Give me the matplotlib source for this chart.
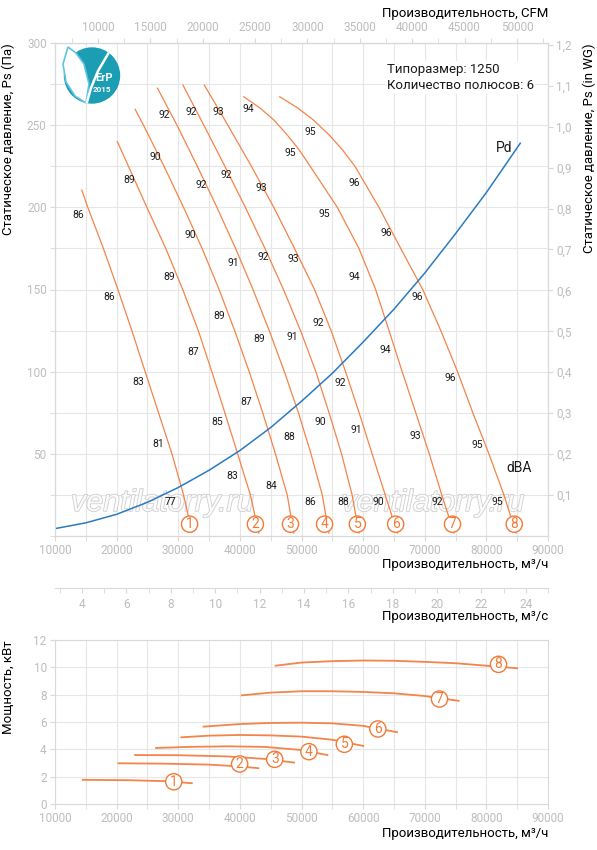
import matplotlib.pyplot as plt
import matplotlib.patheffects as pe
from matplotlib.patches import Circle, Polygon
from matplotlib.ticker import MultipleLocator, FuncFormatter

plt.rcParams['font.family'] = ['Roboto', 'DejaVu Sans']

# fan curves, static pressure (m3/h, Pa)
q1 = [14340, 15320, 17850, 20210, 22470, 24630, 26800, 28980, 30860, 32230]
ps1 = [210.5, 200, 175, 150, 125, 100, 75, 50, 25, 2.4]
q2 = [20130, 21920, 24910, 27970, 30730, 33250, 35450, 37560, 39640, 41710, 43060]
ps2 = [239.9, 225, 200, 175, 150, 125, 100, 75, 50, 25, 1.8]
q3 = [23010, 24360, 27690, 30860, 33870, 36630, 39150, 41510, 43710, 45770, 47680, 48750]
ps3 = [259.6, 250, 225, 200, 175, 150, 125, 100, 75, 50, 25, 1.8]
q4 = [26630, 29790, 33090, 36280, 39300, 42130, 44760, 47220, 49500, 51540, 53370, 54440]
ps4 = [272.5, 250, 225, 200, 175, 150, 125, 100, 75, 50, 25, 1.8]
q5 = [30760, 34150, 37560, 40890, 44070, 47070, 49840, 52330, 54470, 56500, 58210, 59320]
ps5 = [274.4, 250, 225, 200, 175, 150, 125, 100, 75, 50, 25, 1.8]
q6 = [34230, 38050, 41870, 45500, 48860, 52110, 54800, 57150, 59350, 61460, 63580, 65560]
ps6 = [274.4, 250, 225, 200, 175, 150, 125, 100, 75, 50, 25, 1.8]
q7 = [40620, 43280, 45530, 47720, 49630, 51410, 55810, 59320, 62030, 64200, 66340, 68540,
      70730, 72760, 74760]
ps7 = [267.3, 260.4, 253.1, 243.9, 234.9, 225, 200, 175, 150, 125, 100, 75, 50, 25, 1.8]
q8 = [46470, 49410, 51950, 54520, 56670, 58670, 62570, 66100, 69670, 72600, 75320, 77800,
      80410, 82850, 84800]
ps8 = [267.3, 260.4, 253.1, 243.9, 234.9, 225, 200, 175, 150, 125, 100, 75, 50, 25, 1.8]

# dynamic pressure
pd_q = [10000, 15000, 20000, 25000, 30000, 35000, 40000, 45000, 50000,
        55000, 60000, 65000, 70000, 75000, 80000, 85500]
pd_ps = [4.5, 8, 13.2, 20.5, 29.5, 40, 52, 66, 82, 99, 118, 138, 160, 184, 209, 239]

# noise labels along the curves (dBA)
lab_q = [13790, 18830, 23550, 26700, 28700,
         22030, 28540, 32490, 36390, 38830,
         26210, 31900, 36670, 41010, 45070,
         27720, 33740, 38940, 43120, 48050, 51350,
         32070, 37760, 43870, 48490, 52980, 56780,
         36460, 43550, 48750, 52650, 56230, 58940, 62410,
         41330, 48210, 53740, 58620, 63660, 68420, 72060,
         51460, 58620, 63770, 68810, 74110, 78460, 81710]
lab_ps = [195.3, 145.4, 93.9, 56.0, 20.9,
          216.6, 157.4, 112.1, 69.6, 36.5,
          230.4, 183.2, 133.9, 81.7, 30.4,
          256.2, 213.6, 165.9, 119.7, 60.2, 20.9,
          257.8, 219.7, 169.8, 120.9, 69.6, 20.9,
          257.8, 211.6, 168.4, 129.8, 92.9, 64.5, 20.9,
          259.6, 233.2, 195.8, 157.8, 113.2, 61.0, 20.9,
          245.6, 214.6, 184.6, 145.3, 96.3, 55.4, 20.9]
lab_txt = ['86', '86', '83', '81', '77',
           '89', '89', '87', '85', '83',
           '90', '90', '89', '87', '84',
           '92', '92', '91', '89', '88', '86',
           '92', '92', '92', '91', '90', '88',
           '93', '93', '93', '92', '92', '91', '90',
           '94', '95', '95', '94', '94', '93', '92',
           '95', '96', '96', '96', '96', '95', '95']

mark_q = [31840, 42520, 48210, 53740, 59060, 65280, 74500, 84520]
mark_ps = 7.2

# shaft power curves (m3/h, kW)
pq1 = [14500, 22000, 28000, 32200]
pw1 = [1.77, 1.74, 1.67, 1.52]
pq2 = [20300, 28000, 35000, 40000, 43000]
pw2 = [2.98, 2.95, 2.88, 2.75, 2.62]
pq3 = [23000, 30000, 38000, 44000, 48800]
pw3 = [3.58, 3.57, 3.48, 3.30, 3.03]
pq4 = [26400, 32000, 38000, 44000, 50000, 54200]
pw4 = [4.10, 4.18, 4.22, 4.18, 3.95, 3.58]
pq5 = [30500, 35000, 40000, 45000, 50000, 55000, 60000]
pw5 = [4.88, 5.00, 5.05, 5.02, 4.93, 4.70, 4.25]
pq6 = [34100, 40000, 45000, 50000, 55000, 60000, 65500]
pw6 = [5.66, 5.85, 5.93, 5.95, 5.90, 5.72, 5.25]
pq7 = [40300, 45000, 50000, 55000, 60000, 65000, 70000, 75500]
pw7 = [7.95, 8.15, 8.25, 8.25, 8.20, 8.10, 7.90, 7.55]
pq8 = [45800, 50000, 55000, 60000, 65000, 70000, 75000, 80000, 85000]
pw8 = [10.12, 10.35, 10.45, 10.50, 10.48, 10.40, 10.30, 10.12, 9.93]

pmark_q = [29270, 39960, 45650, 51200, 56950, 62390, 72390, 81970]
pmark_w = [1.63, 2.93, 3.27, 3.83, 4.37, 5.49, 7.68, 10.22]

ORANGE = '#f3844a'
MARK = '#f27a38'
BLUE = '#2b7bc0'
GRID = '#e6e6e6'
SPINE = '#d9d9d9'
TICK = '#bdbdbd'

W, H = 597, 850
fig = plt.figure(figsize=(W / 100, H / 100), dpi=100)


def box(x0, y0, x1, y1):
    return [x0 / W, 1 - y1 / H, (x1 - x0) / W, (y1 - y0) / H]


def style(a):
    for s in a.spines.values():
        s.set_color(SPINE)
    a.tick_params(which='both', colors=SPINE, labelcolor=TICK,
                  labelsize=8.5, length=3.5, pad=2.5)


# ---- main pressure chart
ax = fig.add_axes(box(55, 43, 548, 536))
ax.set_xlim(10000, 90000)
ax.set_ylim(0, 300)
ax.set_xticks(range(10000, 90001, 10000))
ax.xaxis.set_minor_locator(MultipleLocator(5000))
ax.set_yticks(range(50, 301, 50))
ax.yaxis.set_minor_locator(MultipleLocator(25))
ax.grid(which='both', color=GRID, lw=0.8)
ax.set_axisbelow(True)
style(ax)

curves_q = [q1, q2, q3, q4, q5, q6, q7, q8]
curves_ps = [ps1, ps2, ps3, ps4, ps5, ps6, ps7, ps8]
for q, p in zip(curves_q, curves_ps):
    ax.plot(q, p, color=ORANGE, lw=0.9, zorder=3)
ax.plot(pd_q, pd_ps, color=BLUE, lw=1.1, zorder=3)

for q, p, t in zip(lab_q, lab_ps, lab_txt):
    ax.text(q, p, t, fontsize=7.5, color='#1a1a1a', ha='center', va='center', zorder=5)

for i, q in enumerate(mark_q):
    ax.text(q, mark_ps, str(i + 1), fontsize=10, color=MARK, ha='center', va='center', zorder=6,
            bbox=dict(boxstyle='circle,pad=0.08', fc='white', ec=MARK, lw=1.0))

ax.text(82800, 235.9, 'Pd', fontsize=10, color='#1a1a1a', ha='center', va='center')
ax.text(85330, 41.2, 'dBA', fontsize=10, color='#1a1a1a', ha='center', va='center')

ax.text(0.673, 0.93, 'Типоразмер: 1250\nКоличество полюсов: 6', transform=ax.transAxes,
        fontsize=9.5, color='#1a1a1a', ha='left', va='center', linespacing=1.35, zorder=6,
        bbox=dict(fc='white', ec='none', pad=1))

for wq in [27400, 71300]:
    ax.text(wq, 20.1, 'ventilatorry.ru', fontsize=22, style='italic', family='Liberation Sans',
            color='white', alpha=0.85, ha='center', va='center', zorder=2,
            path_effects=[pe.withStroke(linewidth=1.1, foreground='#c4c4c4')])

ax.set_ylabel('Статическое давление, Ps (Па)', loc='top', fontsize=9.5)
ax.yaxis.set_label_coords(-0.081, 1.0)
ax.set_xlabel('Производительность, м³/ч', loc='right', fontsize=9.5)
ax.xaxis.set_label_coords(1.0, -0.044)

ax2 = ax.twinx()
ax2.set_ylim(0, 300 / 249.089)
ax2.set_yticks([0.1 * k for k in range(1, 13)])
ax2.yaxis.set_major_formatter(FuncFormatter(lambda v, _: f'{v:.1f}'.replace('.', ',')))
style(ax2)
ax2.set_ylabel('Статическое давление, Ps (in WG)', loc='top', fontsize=9.5)
ax2.yaxis.set_label_coords(1.071, 1.0)

sec = ax.secondary_xaxis('top', functions=(lambda q: q / 1.699, lambda c: c * 1.699))
sec.set_xticks(range(10000, 50001, 5000))
sec.xaxis.set_minor_locator(MultipleLocator(2500))
style(sec)
sec.tick_params(pad=3)
fig.text(548 / W, 1 - 13 / H, 'Производительность, CFM', fontsize=9.5, ha='right', va='center')

# ---- m3/s scale
ax3 = fig.add_axes(box(55, 560, 548, 588))
ax3.set_xlim(10000 / 3600, 90000 / 3600)
ax3.patch.set_visible(False)
for s in ['top', 'left', 'right']:
    ax3.spines[s].set_visible(False)
ax3.set_yticks([])
ax3.set_xticks(range(4, 25, 2))
ax3.xaxis.set_minor_locator(MultipleLocator(1))
style(ax3)
ax3.tick_params(pad=3.5)
ax3.set_xlabel('Производительность, м³/с', loc='right', fontsize=9.5)
ax3.xaxis.set_label_coords(1.0, -0.8)

# ---- logo
lax = fig.add_axes(box(60, 44, 124, 108))
lax.set_xlim(0, 64)
lax.set_ylim(64, 0)
lax.axis('off')
lax.add_patch(Circle((32, 31.5), 27.5, color='#1b9db3'))
lax.add_patch(Polygon([(8, 3), (3, 20), (6, 38), (15, 52), (26, 59), (29, 40), (24, 20), (16, 9)],
                      closed=True, fc='white', ec='#5ec3df', lw=1.2))
lax.plot([48, 38, 31, 27], [10, 27, 44, 58], color='white', lw=1.8)
lax.text(44, 34, 'ErP', color='white', fontsize=8, fontweight='bold', ha='center', va='center')
lax.text(42, 45, '2015', color='white', fontsize=5.8, fontweight='bold', ha='center', va='center')

# ---- power chart
axp = fig.add_axes(box(55, 640, 548, 804))
axp.set_xlim(10000, 90000)
axp.set_ylim(0, 12)
axp.set_xticks(range(10000, 90001, 10000))
axp.xaxis.set_minor_locator(MultipleLocator(5000))
axp.set_yticks(range(0, 13, 2))
axp.grid(which='both', color=GRID, lw=0.8)
axp.set_axisbelow(True)
style(axp)

power_q = [pq1, pq2, pq3, pq4, pq5, pq6, pq7, pq8]
power_w = [pw1, pw2, pw3, pw4, pw5, pw6, pw7, pw8]
for q, w in zip(power_q, power_w):
    axp.plot(q, w, color=ORANGE, lw=1.3, zorder=3)
for i, (q, w) in enumerate(zip(pmark_q, pmark_w)):
    axp.text(q, w, str(i + 1), fontsize=10, color=MARK, ha='center', va='center', zorder=6,
             bbox=dict(boxstyle='circle,pad=0.08', fc='white', ec=MARK, lw=1.0))

axp.set_ylabel('Мощность, кВт', loc='top', fontsize=9.5)
axp.yaxis.set_label_coords(-0.081, 1.0)
axp.set_xlabel('Производительность, м³/ч', loc='right', fontsize=9.5)
axp.xaxis.set_label_coords(1.0, -0.14)

fig.savefig('out.png', dpi=100)
